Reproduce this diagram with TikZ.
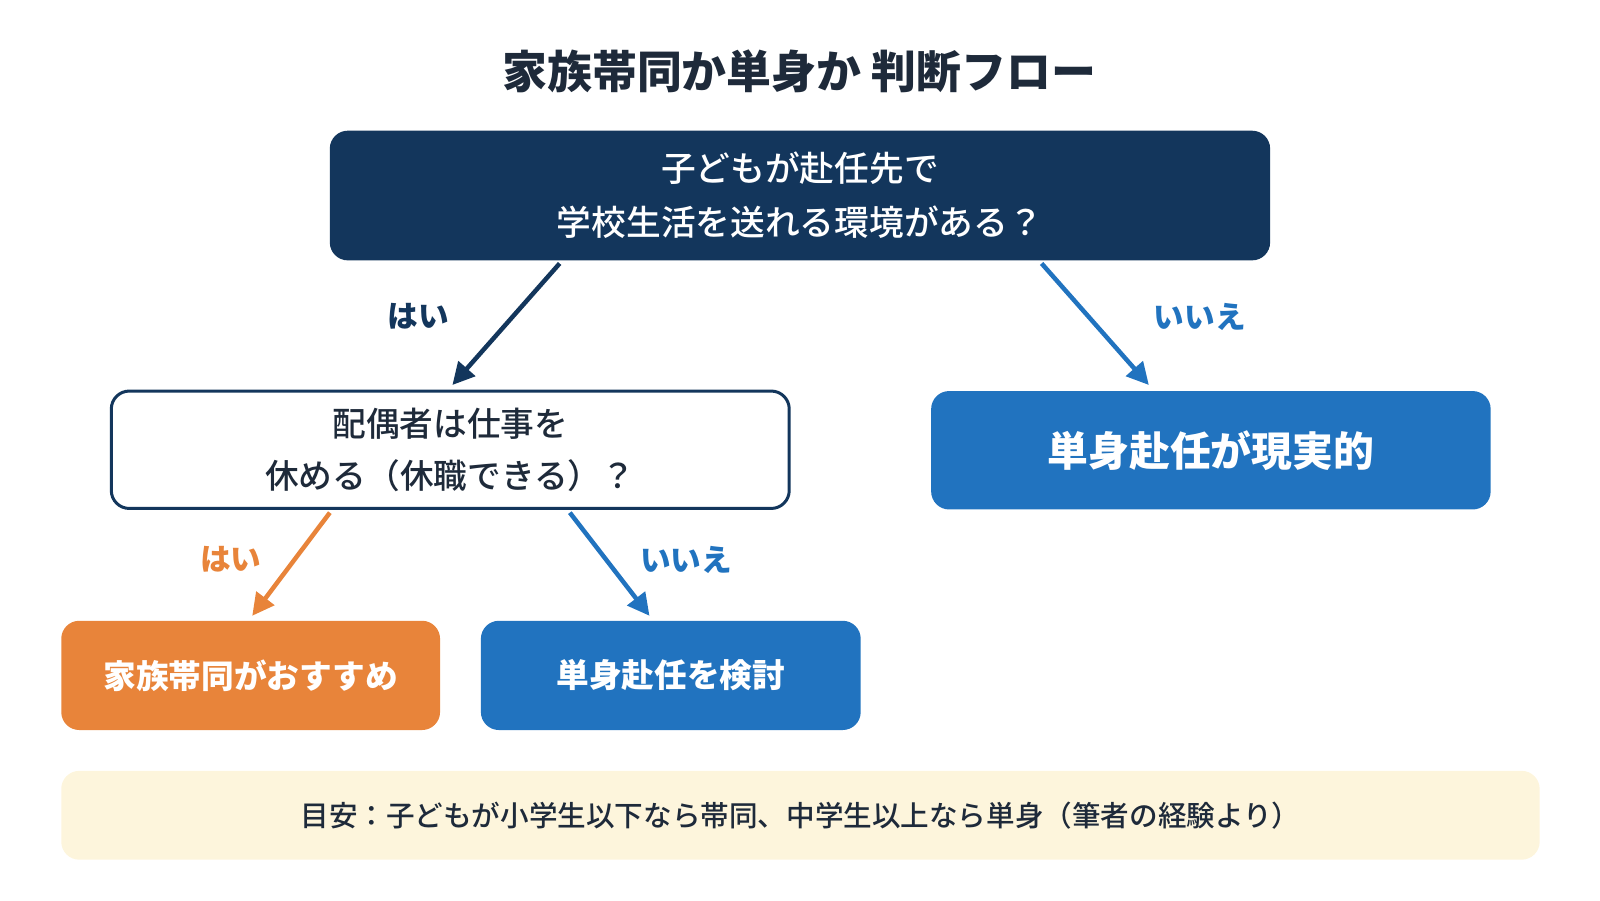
\documentclass[tikz,border=0pt]{standalone}
\usepackage{fontspec}
\setmainfont{Noto Sans CJK JP}
\newfontfamily\medfont{Noto Sans CJK JP Medium}
\usetikzlibrary{arrows.meta}
\definecolor{navy}{HTML}{13365C}
\definecolor{blu}{HTML}{2173BF}
\definecolor{org}{HTML}{E8843A}
\definecolor{txt}{HTML}{1E2A3A}
\definecolor{cream}{HTML}{FDF5DC}
\begin{document}
\begin{tikzpicture}[x=1pt,y=-1pt,
  box/.style={rounded corners=18pt,align=center,inner sep=0pt},
  arr/.style={line width=4.5pt,-{Triangle[length=22pt,width=22pt]}},
  lab/.style={font=\fontsize{30}{34}\selectfont\bfseries}]
\useasboundingbox (0,0) rectangle (1600,900);
\begin{scope}[scale=1.021,transform shape]
\node[text=txt,font=\fontsize{44}{50}\selectfont\bfseries] (title) at (783,70) {家族帯同か単身か 判断フロー};
\node[box,fill=navy,text=white,minimum width=921pt,minimum height=127pt,font=\fontsize{34}{53}\selectfont\medfont] (q1) at (783.5,191.5) {子どもが赴任先で\\学校生活を送れる環境がある？};
\node[box,fill=white,draw=navy,line width=3pt,text=txt,minimum width=664pt,minimum height=115pt,font=\fontsize{33}{51}\selectfont\medfont] (q2) at (441,440.5) {配偶者は仕事を\\休める（休職できる）？};
\node[box,fill=blu,text=white,minimum width=548pt,minimum height=116pt,font=\fontsize{40}{46}\selectfont\bfseries] (r1) at (1186,441) {単身赴任が現実的};
\node[box,fill=org,text=white,minimum width=371pt,minimum height=107pt,font=\fontsize{32}{38}\selectfont\bfseries] (r2) at (245.5,661.5) {家族帯同がおすすめ};
\node[box,fill=blu,text=white,minimum width=372pt,minimum height=107pt,font=\fontsize{32}{38}\selectfont\bfseries] (r3) at (657,661.5) {単身赴任を検討};
\node[box,fill=cream,text=txt,minimum width=1448pt,minimum height=87pt,font=\fontsize{28}{32}\selectfont\medfont] (note) at (784,798.5) {目安：子どもが小学生以下なら帯同、中学生以上なら単身（筆者の経験より）};
\coordinate (a1) at (548,258); \coordinate (b1) at (443,377);
\coordinate (a2) at (1020,258); \coordinate (b2) at (1125,377);
\coordinate (a3) at (323,502); \coordinate (b3) at (247,603);
\coordinate (a4) at (558,502); \coordinate (b4) at (636,603);
\draw[arr,navy] (a1) -- (b1);
\draw[arr,blu] (a2) -- (b2);
\draw[arr,org] (a3) -- (b3);
\draw[arr,blu] (a4) -- (b4);
\node[lab,text=navy] (l1) at (410,310) {はい};
\node[lab,text=blu] (l2) at (1175,310) {いいえ};
\node[lab,text=org] (l3) at (226,548) {はい};
\node[lab,text=blu] (l4) at (672,548) {いいえ};
\end{scope}
\end{tikzpicture}
\end{document}
